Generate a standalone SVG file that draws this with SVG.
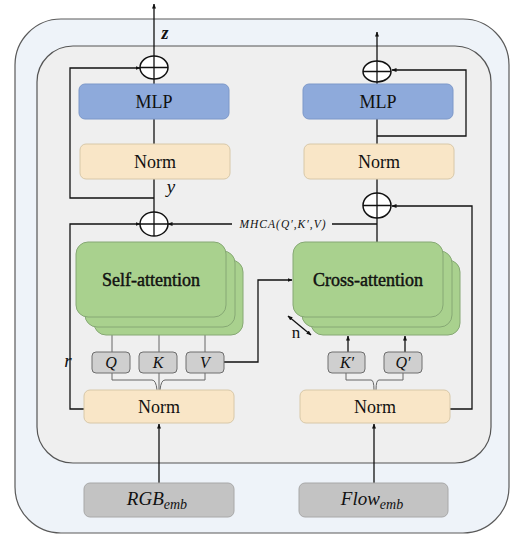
<svg xmlns="http://www.w3.org/2000/svg" width="516" height="538" viewBox="0 0 516 538">
<style>
.lbl{font-family:"Liberation Serif","Times New Roman",serif;fill:#111;text-anchor:middle}
.att-lbl{font-family:"Liberation Serif","Times New Roman",serif;fill:#111;stroke:#111;stroke-width:0.45;text-anchor:middle}
.math{font-family:"Liberation Serif","DejaVu Serif",serif;font-style:italic;fill:#111;text-anchor:middle}
.mlp{fill:#8eaadb;stroke:#7c98c9;stroke-width:1}
.norm{fill:#f9e6c7;stroke:#d8c8a8;stroke-width:1}
.att{fill:#a9d18e;stroke:#86a874;stroke-width:1}
.qkv{fill:#cfcfcf;stroke:#6e6e6e;stroke-width:1}
.emb{fill:#c3c3c3;stroke:#a8a8a8;stroke-width:1}
.add{fill:#fff;stroke:#111;stroke-width:1.5}
.ln{fill:none;stroke:#111;stroke-width:1.3}
.thin{fill:none;stroke:#666;stroke-width:1}
</style>
<defs>
<marker id="ah" viewBox="0 0 10 10" refX="9" refY="5" markerWidth="5" markerHeight="5" orient="auto-start-reverse" markerUnits="userSpaceOnUse">
<path d="M0,1 L10,5 L0,9 z" fill="#111"/>
</marker>
</defs>
<g id="containers">
<rect x="15" y="19" width="494" height="514" rx="46" fill="#eef3f9" stroke="#5a5a5a" stroke-width="1.2"/>
<rect x="37" y="46" width="454" height="417" rx="36" fill="#efefef" stroke="#555" stroke-width="1.2"/>
</g>
<g id="connectors">
<line class="ln" x1="154" y1="56" x2="154" y2="4" marker-end="url(#ah)"/>
<line class="ln" x1="154" y1="79" x2="154" y2="84"/>
<line class="ln" x1="154" y1="119" x2="154" y2="144"/>
<line class="ln" x1="154" y1="179" x2="154" y2="212"/>
<path class="ln" d="M154 198 H70 V68 H140" marker-end="url(#ah)"/>
<path class="ln" d="M84 409 H70 V224 H140" marker-end="url(#ah)"/>
<path class="ln" d="M232 224 H168" marker-end="url(#ah)"/>
<path class="ln" d="M332 224 H377"/>
<path class="thin" d="M112 335 V352 M159 335 V352 M205 335 V352"/>
<path class="thin" d="M112 373 V380 H152 Q156 380 157 390 M205 373 V380 H165 Q161 380 160 390 M159 373 V390"/>
<path class="ln" d="M224 362 H258 V280 H292" marker-end="url(#ah)"/>
<line class="ln" x1="159" y1="483" x2="159" y2="424" marker-end="url(#ah)"/>
<line class="ln" x1="377" y1="61" x2="377" y2="32" marker-end="url(#ah)"/>
<line class="ln" x1="377" y1="82" x2="377" y2="84"/>
<line class="ln" x1="377" y1="119" x2="377" y2="144"/>
<path class="ln" d="M377 136 H466 V70 H392" marker-end="url(#ah)"/>
<line class="ln" x1="377" y1="179" x2="377" y2="193"/>
<line class="ln" x1="377" y1="218" x2="377" y2="242"/>
<path class="ln" d="M450 409 H472 V206 H392" marker-end="url(#ah)"/>
<line class="ln" x1="348" y1="352" x2="348" y2="336" marker-end="url(#ah)"/>
<line class="ln" x1="405" y1="352" x2="405" y2="336" marker-end="url(#ah)"/>
<path class="thin" d="M346 373 V380 H371 Q374 380 374 390 M403 373 V380 H379 Q376 380 376 390"/>
<line class="ln" x1="374" y1="483" x2="374" y2="424" marker-end="url(#ah)"/>
<line class="ln" x1="288" y1="316" x2="311" y2="335" marker-start="url(#ah)" marker-end="url(#ah)"/>
</g>
<g id="add-left-top"><ellipse class="add" cx="154" cy="67.5" rx="14" ry="11.5"/><path class="ln" d="M140 67.5 H168 M154 56 V79"/></g>
<g id="add-left-mid"><ellipse class="add" cx="154" cy="224" rx="14" ry="12"/><path class="ln" d="M140 224 H168 M154 212 V236"/></g>
<g id="add-right-top"><ellipse class="add" cx="377" cy="71.5" rx="14" ry="10.5"/><path class="ln" d="M363 71.5 H391 M377 61 V82"/></g>
<g id="add-right-mid"><ellipse class="add" cx="377" cy="205.5" rx="14" ry="12.5"/><path class="ln" d="M363 205.5 H391 M377 193 V218"/></g>
<g id="mlp-left"><rect class="mlp" x="79" y="84" width="150" height="35" rx="6"/><text class="lbl" x="154" y="108" font-size="18">MLP</text></g>
<g id="norm-left-top"><rect class="norm" x="80" y="144" width="150" height="35" rx="6"/><text class="lbl" x="155" y="168" font-size="18">Norm</text></g>
<g id="mlp-right"><rect class="mlp" x="303" y="84" width="150" height="35" rx="6"/><text class="lbl" x="378" y="108" font-size="18">MLP</text></g>
<g id="norm-right-top"><rect class="norm" x="304" y="144" width="150" height="35" rx="6"/><text class="lbl" x="379" y="168" font-size="18">Norm</text></g>
<g id="self-attention">
<rect class="att" x="94" y="260" width="149" height="75" rx="12"/>
<rect class="att" x="85" y="251" width="150" height="76" rx="12"/>
<rect class="att" x="76" y="242" width="150" height="75" rx="12"/>
<text class="att-lbl" x="151" y="286" font-size="18">Self-attention</text>
</g>
<g id="cross-attention">
<rect class="att" x="311" y="260" width="149" height="75" rx="12"/>
<rect class="att" x="302" y="251" width="150" height="76" rx="12"/>
<rect class="att" x="293" y="242" width="150" height="75" rx="12"/>
<text class="att-lbl" x="368" y="286" font-size="18">Cross-attention</text>
</g>
<g id="q"><rect class="qkv" x="92" y="352" width="38" height="21" rx="4"/><text class="math" x="111" y="368" font-size="16">Q</text></g>
<g id="k"><rect class="qkv" x="139" y="352" width="38" height="21" rx="4"/><text class="math" x="158" y="368" font-size="16">K</text></g>
<g id="v"><rect class="qkv" x="186" y="352" width="38" height="21" rx="4"/><text class="math" x="205" y="368" font-size="16">V</text></g>
<g id="k-prime"><rect class="qkv" x="328" y="352" width="37" height="21" rx="4"/><text class="math" x="347" y="368" font-size="16">K′</text></g>
<g id="q-prime"><rect class="qkv" x="384" y="352" width="38" height="21" rx="4"/><text class="math" x="403" y="368" font-size="16">Q′</text></g>
<g id="norm-left-bottom"><rect class="norm" x="84" y="390" width="150" height="33" rx="6"/><text class="lbl" x="159" y="413" font-size="18">Norm</text></g>
<g id="norm-right-bottom"><rect class="norm" x="300" y="390" width="150" height="33" rx="6"/><text class="lbl" x="375" y="413" font-size="18">Norm</text></g>
<g id="rgb-emb"><rect class="emb" x="84" y="483" width="150" height="34" rx="6"/><text class="math" x="157" y="505" font-size="19">RGB<tspan font-size="14" dy="4">emb</tspan></text></g>
<g id="flow-emb"><rect class="emb" x="299" y="483" width="149" height="34" rx="6"/><text class="math" x="372" y="505" font-size="19">Flow<tspan font-size="14" dy="4">emb</tspan></text></g>
<g id="labels">
<text class="math" x="165" y="39" font-size="18" font-weight="bold">z</text>
<text class="math" x="171" y="193" font-size="19">y</text>
<text class="math" x="68" y="367" font-size="19">r</text>
<text class="math" x="283" y="228" font-size="11.5" letter-spacing="1">MHCA(Q′,K′,V)</text>
<text class="lbl" x="296" y="338" font-size="17">n</text>
</g>
</svg>
